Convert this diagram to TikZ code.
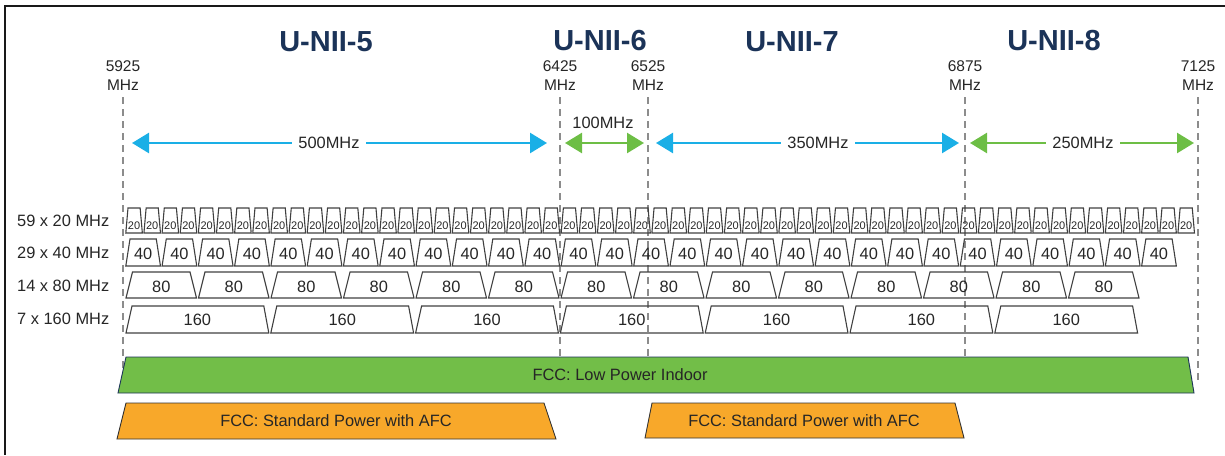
\documentclass[tikz,border=0pt]{standalone}
\usepackage{fontspec}
\setmainfont{Liberation Sans}
\usetikzlibrary{arrows.meta}
\definecolor{titlenavy}{HTML}{1B3358}
\definecolor{arrblue}{HTML}{1AAFE6}
\definecolor{arrgreen}{HTML}{6DBE45}
\definecolor{bargreen}{HTML}{72BE48}
\definecolor{barorange}{HTML}{F8A82A}
\definecolor{chanline}{HTML}{404040}
\definecolor{txt}{HTML}{262626}
\definecolor{dashgray}{HTML}{8C8C8C}
\begin{document}
\begin{tikzpicture}[x=1pt,y=-1pt,
  title/.style={font=\fontsize{29}{29}\selectfont\bfseries, text=titlenavy, inner sep=0pt},
  freq/.style={font=\fontsize{15.5}{19}\selectfont, text=txt, align=center, inner sep=0pt},
  bw/.style={font=\fontsize{16.4}{18}\selectfont, text=txt, fill=white, inner sep=0pt, inner xsep=6pt},
  rowlbl/.style={font=\fontsize{16.4}{18}\selectfont, text=txt, anchor=west, inner sep=0pt},
  chan/.style={draw=chanline, line width=1.1pt, line join=miter},
  t20/.style={font=\fontsize{11}{11}\selectfont, text=txt, inner sep=0pt},
  tch/.style={font=\fontsize{16.4}{18}\selectfont, text=txt, inner sep=0pt},
  bar/.style={font=\fontsize{16.4}{18}\selectfont, text=txt, inner sep=0pt},
  dline/.style={draw=dashgray, line width=1.5pt, dash pattern=on 7pt off 5pt},
  barrow/.style={draw=arrblue, line width=2.5pt, {Triangle[length=17pt,width=20pt]}-{Triangle[length=17pt,width=20pt]}},
  garrow/.style={draw=arrgreen, line width=2.5pt, {Triangle[length=17pt,width=20pt]}-{Triangle[length=17pt,width=20pt]}}
]
\useasboundingbox (0,0) rectangle (1225,455);
% frame
\draw[line width=2.6pt, color=black!90] (1225,6) -- (5,6) -- (5,455);

% titles
\node[title] (u5) at (326,42) {U-NII-5};
\node[title] (u6) at (600,41) {U-NII-6};
\node[title] (u7) at (792,42) {U-NII-7};
\node[title] (u8) at (1054,41) {U-NII-8};

% frequency labels and dashed lines
\foreach \f/\x in {5925/123, 6425/560, 6525/648, 6875/965, 7125/1198}{
  \node[freq] (l\f) at (\x,75.5) {\f\\MHz};
  \coordinate (d\f t) at (\x,97);
  \coordinate (d\f b) at (\x,382);
  \draw[dline] (d\f t) -- (d\f b);
}

% bandwidth arrows
\coordinate (a500L) at (132,143); \coordinate (a500R) at (547,143);
\coordinate (a100L) at (565,143); \coordinate (a100R) at (644,143);
\coordinate (a350L) at (656,143); \coordinate (a350R) at (959,143);
\coordinate (a250L) at (970,143); \coordinate (a250R) at (1194,143);
\draw[barrow] (a500L) -- (a500R);
\draw[garrow] (a100L) -- (a100R);
\draw[barrow] (a350L) -- (a350R);
\draw[garrow] (a250L) -- (a250R);
\node[bw] (b500) at (329,143) {500MHz};
\node[bw, fill=none] (b100) at (603,123) {100MHz};
\node[bw] (b350) at (818,143) {350MHz};
\node[bw] (b250) at (1083,143) {250MHz};

% row labels
\node[rowlbl] (r20) at (17,221) {59 x 20 MHz};
\node[rowlbl] (r40) at (17,253) {29 x 40 MHz};
\node[rowlbl] (r80) at (17,286) {14 x 80 MHz};
\node[rowlbl] (r160) at (17,319) {7 x 160 MHz};

% 20 MHz channels
\foreach \i in {0,...,58}{
  \pgfmathsetmacro{\a}{125+\i*18.14}
  \draw[chan] (\a+0.8,233) -- (\a+3,208) -- (\a+15.14,208) -- (\a+17.34,233) -- cycle;
  \node[t20] (c20-\i) at (\a+9.07,226) {20};
}
% 40 MHz channels
\foreach \i in {0,...,28}{
  \pgfmathsetmacro{\a}{125+\i*36.28}
  \draw[chan] (\a+0.8,266) -- (\a+5,239) -- (\a+31.28,239) -- (\a+35.48,266) -- cycle;
  \node[tch] (c40-\i) at (\a+18.14,254) {40};
}
% 80 MHz channels
\foreach \i in {0,...,13}{
  \pgfmathsetmacro{\a}{125+\i*72.5}
  \draw[chan] (\a+1,298) -- (\a+7.5,272) -- (\a+65,272) -- (\a+71.5,298) -- cycle;
  \node[tch] (c80-\i) at (\a+36.25,287) {80};
}
% 160 MHz channels
\foreach \i in {0,...,6}{
  \pgfmathsetmacro{\a}{125+\i*144.8}
  \draw[chan] (\a+1,333) -- (\a+7,306) -- (\a+138.8,306) -- (\a+143.8,333) -- cycle;
  \node[tch] (c160-\i) at (\a+72.4,320) {160};
}

% power bars
\draw[fill=bargreen, draw=titlenavy, line width=0.9pt] (126,357) -- (1188,357) -- (1194,393) -- (118,393) -- cycle;
\node[bar] (lpi) at (620,375) {FCC: Low Power Indoor};
\draw[fill=barorange, draw=black!80, line width=0.9pt] (126,403) -- (544,403) -- (556,439) -- (117,439) -- cycle;
\node[bar] (sp1) at (336,421) {FCC: Standard Power with AFC};
\draw[fill=barorange, draw=black!80, line width=0.9pt] (652,403) -- (955,403) -- (964,438) -- (645,438) -- cycle;
\node[bar] (sp2) at (804,421) {FCC: Standard Power with AFC};
\end{tikzpicture}
\end{document}
